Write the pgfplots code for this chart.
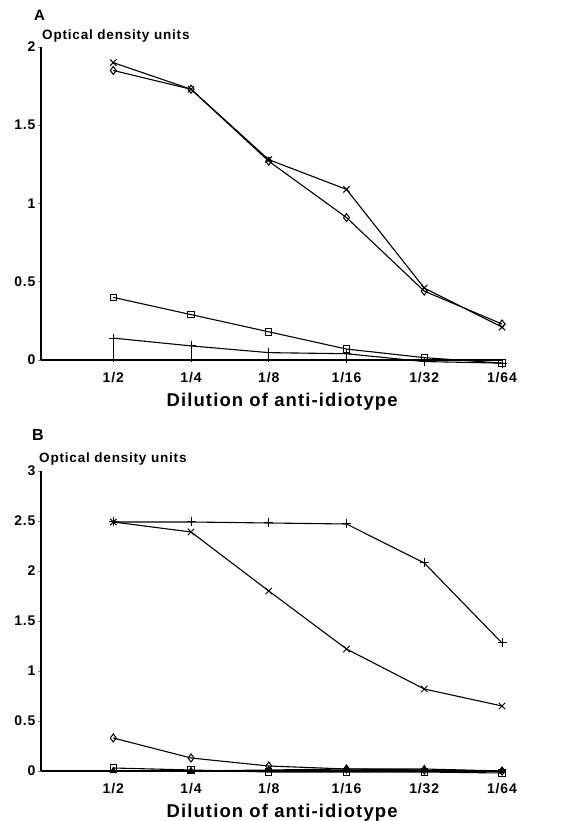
\documentclass[border=0pt]{standalone}
\usepackage{fontspec}
\setmainfont{Liberation Sans}
\newfontfamily\lab[LetterSpace=6]{Liberation Sans}
\usepackage{pgfplots}
\pgfplotsset{compat=1.18}
\pgfplotsset{
  pan/.style={
    scale only axis, width=461pt,
    xmin=0.07, xmax=6, ymin=0,
    axis x line=bottom, axis y line=left,
    axis line style={line width=1.1pt,-},
    xtick={1,2,3,4,5,6},
    xticklabels={1/2,1/4,1/8,1/16,1/32,1/64},
    major x tick style={draw=none},
    major y tick style={line width=0.9pt},
    tick align=outside, major tick length=3pt,
    tick label style={font=\lab\bfseries\fontsize{14}{14}\selectfont},
    /pgf/number format/assume math mode=true,
    /pgf/number format/fixed,
    xticklabel style={yshift=-5.5pt},
    yticklabel style={xshift=1pt},
    clip=false,
    cycle list={{black}},
    xlabel={Dilution of anti-idiotype},
    xlabel style={font=\lab\bfseries\fontsize{18.5}{20}\selectfont, at={(axis description cs:0.523,0)}, anchor=north, inner sep=0pt, yshift=-33pt},
  },
  ln/.style={black, line width=1.1pt, mark options={solid, line width=1pt, black}},
}
\begin{document}
\begin{tikzpicture}[x=1pt,y=1pt]
\path[use as bounding box] (0,0) rectangle (579,821);
% Panel A
\begin{axis}[pan, at={(41pt,461pt)}, anchor=south west, height=313pt, ymax=2,
  ytick={0,0.5,1,1.5,2}]
\addplot[ln, mark=x, mark size=4.5pt] coordinates {(1,1.90) (2,1.73) (3,1.28) (4,1.09) (5,0.46) (6,0.21)};
\addplot[ln, mark=diamond, mark size=4pt] coordinates {(1,1.85) (2,1.73) (3,1.27) (4,0.91) (5,0.44) (6,0.23)};
\addplot[ln, mark=square, mark size=3.2pt] coordinates {(1,0.40) (2,0.29) (3,0.18) (4,0.07) (5,0.015) (6,-0.02)};
\addplot[ln, mark=+, mark size=4.5pt, error bars/.cd, y dir=minus, y explicit, error mark=none, error bar style={line width=0.9pt}] coordinates {
  (1,0.14) -= (0,0.155) (2,0.09) -= (0,0.105) (3,0.047) -= (0,0.06) (4,0.04) -= (0,0.06) (5,-0.01) (6,-0.02)};
\end{axis}
\node[anchor=base west, inner sep=0pt, font=\bfseries\fontsize{15}{16}\selectfont] at (34,800) {A};
\node[anchor=base west, inner sep=0pt, font=\lab\bfseries\fontsize{13.5}{14}\selectfont] at (42,781) {Optical density units};
% Panel B
\begin{axis}[pan, at={(41pt,50pt)}, anchor=south west, height=300pt, ymax=3,
  ytick={0,0.5,1,1.5,2,2.5,3}]
\addplot[ln, mark=+, mark size=4.5pt] coordinates {(1,2.49) (2,2.49) (3,2.48) (4,2.47) (5,2.08) (6,1.28)};
\addplot[ln, mark=x, mark size=4.5pt] coordinates {(1,2.49) (2,2.39) (3,1.80) (4,1.22) (5,0.82) (6,0.65)};
\addplot[ln, mark=diamond, mark size=4pt] coordinates {(1,0.33) (2,0.13) (3,0.05) (4,0.02) (5,0.01) (6,0.0)};
\addplot[ln, mark=square, mark size=3.2pt] coordinates {(1,0.03) (2,0.01) (3,-0.01) (4,-0.01) (5,-0.01) (6,-0.02)};
\addplot[ln, mark=triangle*, mark size=3.5pt] coordinates {(1,0.0) (2,0.0) (3,0.01) (4,0.02) (5,0.02) (6,0.0)};
\end{axis}
\node[anchor=base west, inner sep=0pt, font=\bfseries\fontsize{16}{16}\selectfont] at (32,380) {B};
\node[anchor=base west, inner sep=0pt, font=\lab\bfseries\fontsize{13.5}{14}\selectfont] at (39,358) {Optical density units};
\end{tikzpicture}
\end{document}
